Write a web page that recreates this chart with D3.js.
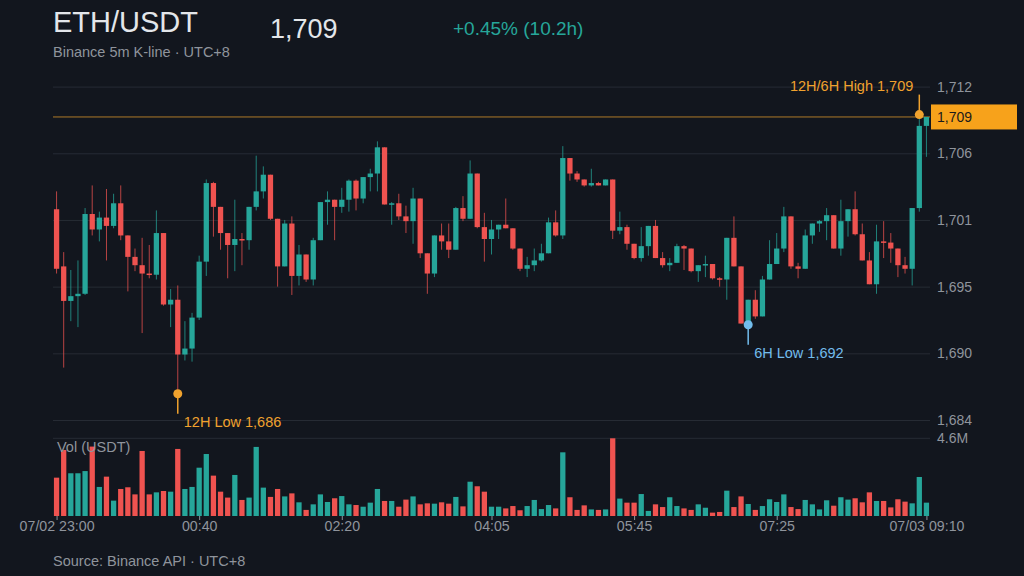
<!DOCTYPE html>
<html>
<head>
<meta charset="utf-8">
<script src="https://cdn.jsdelivr.net/npm/d3@7"></script>
<style>
    html, body { margin: 0; padding: 0; background: #12161e; }
    svg { display: block; font-family: "Liberation Sans", Arial, sans-serif; }
</style>
</head>
<body>
<svg id="chart"></svg>
<script>
// 5m candles, 07/02 23:00 -> 07/03 09:10 (UTC+8)
var opens = [
    1701.7, 1696.9, 1694.0, 1694.4, 1694.6, 1701.3, 1700.0, 1701.0, 1700.3, 1702.2,
    1699.5, 1697.7, 1697.0, 1696.3, 1696.2, 1699.7, 1693.7, 1694.1, 1689.5, 1690.0,
    1692.6, 1697.3, 1703.9, 1701.9, 1699.7, 1698.7, 1699.2, 1699.1, 1701.9, 1703.2,
    1704.6, 1700.9, 1696.9, 1700.5, 1696.1, 1697.9, 1695.8, 1699.1, 1702.3, 1702.5,
    1701.9, 1702.5, 1704.1, 1702.6, 1704.4, 1704.7, 1706.9, 1702.1, 1702.2, 1701.1,
    1700.7, 1702.6, 1698.0, 1696.3, 1699.5, 1699.0, 1698.3, 1701.8, 1700.9, 1704.7,
    1700.2, 1699.2, 1700.0, 1700.4, 1700.1, 1698.4, 1696.7, 1697.0, 1697.4, 1698.0,
    1700.6, 1699.5, 1706.0, 1704.7, 1704.2, 1703.7, 1703.9, 1703.7, 1704.2, 1699.9,
    1700.2, 1698.8, 1697.6, 1698.6, 1700.3, 1697.6, 1697.0, 1697.2, 1698.6, 1698.4,
    1696.5, 1697.0, 1697.1, 1695.9, 1695.8, 1699.3, 1696.9, 1692.1, 1694.1, 1692.7,
    1695.8, 1697.1, 1698.4, 1701.1, 1696.9, 1696.7, 1699.5, 1700.5, 1700.7, 1701.2,
    1698.4, 1700.7, 1701.7, 1699.6, 1697.4, 1695.4, 1699.0, 1698.9, 1698.4, 1697.0,
    1696.7, 1701.8, 1708.7
];
var highs = [
    1703.2, 1698.1, 1696.6, 1697.4, 1701.8, 1703.7, 1701.5, 1703.4, 1703.0, 1703.7,
    1699.5, 1698.4, 1699.3, 1698.7, 1701.6, 1699.7, 1695.0, 1695.3, 1692.3, 1693.0,
    1697.8, 1704.2, 1704.0, 1701.9, 1699.7, 1702.5, 1699.7, 1701.9, 1706.2, 1705.3,
    1704.6, 1700.9, 1700.8, 1701.1, 1698.7, 1697.9, 1699.3, 1702.3, 1703.2, 1702.5,
    1703.5, 1704.2, 1704.2, 1704.4, 1705.1, 1707.4, 1706.9, 1702.3, 1703.0, 1702.0,
    1703.5, 1702.6, 1698.0, 1699.5, 1700.5, 1700.5, 1701.9, 1702.8, 1705.8, 1704.7,
    1701.4, 1700.8, 1700.4, 1702.6, 1700.1, 1698.4, 1697.7, 1698.4, 1698.8, 1701.0,
    1701.6, 1707.0, 1706.0, 1704.9, 1704.2, 1705.1, 1704.0, 1704.2, 1704.2, 1701.5,
    1700.4, 1698.8, 1700.2, 1700.3, 1700.8, 1698.1, 1697.6, 1698.8, 1698.7, 1698.4,
    1697.0, 1697.8, 1697.1, 1696.0, 1699.3, 1701.1, 1696.9, 1694.1, 1694.9, 1696.1,
    1699.1, 1699.7, 1701.9, 1701.1, 1697.2, 1700.0, 1700.5, 1700.8, 1701.8, 1701.2,
    1702.5, 1701.7, 1703.2, 1700.5, 1698.1, 1700.4, 1700.7, 1699.7, 1698.4, 1697.7,
    1701.8, 1709.65, 1709.45
];
var lows = [
    1696.3, 1688.4, 1692.3, 1691.8, 1694.5, 1699.5, 1699.0, 1697.4, 1700.1, 1699.1,
    1694.8, 1696.5, 1691.3, 1695.9, 1695.8, 1693.6, 1691.8, 1686.2, 1689.0, 1688.9,
    1692.4, 1696.1, 1699.4, 1698.3, 1695.9, 1696.5, 1697.0, 1698.3, 1701.6, 1702.6,
    1700.8, 1695.2, 1696.9, 1694.5, 1695.3, 1695.6, 1695.3, 1699.1, 1700.4, 1699.1,
    1701.4, 1701.5, 1701.6, 1702.2, 1703.2, 1703.2, 1702.1, 1700.4, 1700.8, 1699.7,
    1698.8, 1697.6, 1694.6, 1696.0, 1698.3, 1697.6, 1698.3, 1700.7, 1700.9, 1700.1,
    1697.3, 1697.9, 1699.2, 1700.1, 1698.3, 1696.5, 1696.0, 1696.5, 1697.3, 1698.0,
    1699.4, 1699.2, 1704.1, 1704.0, 1703.6, 1703.6, 1703.7, 1703.7, 1699.2, 1699.6,
    1698.3, 1697.5, 1697.3, 1697.8, 1697.6, 1696.8, 1696.5, 1697.2, 1696.6, 1696.4,
    1695.6, 1696.0, 1695.8, 1695.2, 1694.1, 1696.9, 1692.1, 1692.0, 1692.5, 1692.7,
    1695.8, 1697.1, 1698.1, 1696.7, 1695.9, 1696.7, 1698.8, 1699.8, 1699.1, 1698.4,
    1697.8, 1699.4, 1699.5, 1697.4, 1695.4, 1694.6, 1697.6, 1697.2, 1696.0, 1696.3,
    1695.3, 1701.5, 1706.1
];
var closes = [
    1696.7, 1694.0, 1694.4, 1694.6, 1701.3, 1700.0, 1701.0, 1700.3, 1702.2, 1699.5,
    1697.7, 1697.0, 1696.3, 1696.2, 1699.7, 1693.7, 1694.1, 1689.5, 1690.0, 1692.6,
    1697.3, 1703.9, 1701.9, 1699.7, 1698.7, 1699.2, 1699.1, 1701.9, 1703.2, 1704.6,
    1700.9, 1696.9, 1700.5, 1696.1, 1697.9, 1695.8, 1699.1, 1702.3, 1702.5, 1701.9,
    1702.5, 1704.1, 1702.6, 1704.4, 1704.7, 1706.9, 1702.1, 1702.2, 1701.1, 1700.7,
    1702.6, 1698.0, 1696.3, 1699.5, 1699.0, 1698.3, 1701.8, 1700.9, 1704.7, 1700.2,
    1699.2, 1700.0, 1700.4, 1700.1, 1698.4, 1696.7, 1697.0, 1697.4, 1698.0, 1700.6,
    1699.5, 1706.0, 1704.7, 1704.2, 1703.7, 1703.9, 1703.7, 1704.2, 1699.9, 1700.2,
    1698.8, 1697.6, 1698.6, 1700.3, 1697.6, 1697.0, 1697.2, 1698.6, 1698.4, 1696.5,
    1697.0, 1697.1, 1695.9, 1695.8, 1699.3, 1696.9, 1692.1, 1694.1, 1692.7, 1695.8,
    1697.1, 1698.4, 1701.1, 1696.9, 1696.7, 1699.5, 1700.5, 1700.7, 1701.2, 1698.4,
    1700.7, 1701.7, 1699.6, 1697.4, 1695.4, 1699.0, 1698.9, 1698.4, 1697.0, 1696.7,
    1701.8, 1708.7, 1709.45
];
// volume in millions of USDT
var volumes = [
    2.27, 3.91, 2.53, 2.53, 2.66, 4.11, 1.72, 2.33, 0.91, 1.60,
    1.70, 1.28, 3.85, 1.28, 1.40, 1.48, 1.44, 3.97, 1.60, 1.72,
    2.86, 3.67, 2.39, 1.44, 1.09, 2.43, 0.95, 1.09, 4.09, 1.68,
    1.13, 1.60, 1.16, 1.34, 0.81, 0.36, 0.69, 1.28, 0.83, 1.05,
    1.18, 0.69, 0.65, 0.55, 0.79, 1.60, 0.89, 0.89, 0.55, 0.97,
    1.16, 0.69, 0.75, 0.73, 0.81, 0.73, 1.13, 0.57, 2.03, 1.76,
    1.44, 0.55, 0.55, 0.45, 0.59, 0.34, 0.59, 0.95, 0.41, 0.65,
    0.45, 3.77, 1.11, 0.36, 0.63, 0.39, 0.36, 0.39, 4.60, 1.03,
    0.79, 0.79, 1.30, 0.30, 0.69, 0.53, 1.11, 0.59, 0.45, 0.36,
    0.69, 0.49, 0.20, 0.24, 1.50, 0.53, 1.16, 0.71, 0.36, 0.59,
    0.99, 0.83, 1.28, 0.53, 0.41, 0.95, 0.69, 0.39, 0.93, 0.61,
    1.11, 0.97, 1.05, 0.81, 1.40, 0.89, 0.89, 0.51, 0.99, 0.85,
    0.75, 2.31, 0.79
];

var xTickIndex = [0, 20, 40, 61, 81, 101, 122];
var xTickLabels = ["07/02 23:00", "00:40", "02:20", "04:05", "05:45", "07:25", "07/03 09:10"];
var yTickValues = [1684, 1689.6, 1695.2, 1700.8, 1706.4, 1712];

var markHigh = {index: 121, value: 1709.65, text: "12H/6H High 1,709"};
var markLow12 = {index: 17, value: 1686.2, text: "12H Low 1,686"};
var markLow6 = {index: 97, value: 1692.0, text: "6H Low 1,692"};

var dimensions = {
    width: 1024,
    height: 576,
    left: 53,
    right: 930,
    priceTop: 86.6,
    priceBottom: 420,
    volTop: 438.3,
    volBottom: 516
}

var colors = {
    bg: "#12161e",
    up: "#26a69a",
    down: "#ef5350",
    grid: "#262b34",
    text: "#e3e6ea",
    muted: "#8f949c",
    orange: "#f0a22e",
    blue: "#72bcec"
}

var small = "14.5px";

var candles = opens.map((o, i) => ({
    i: i, open: o, high: highs[i], low: lows[i], close: closes[i], vol: volumes[i] * 1e6
}));

var svg = d3.select("#chart")
    .attr("width", dimensions.width)
    .attr("height", dimensions.height);

svg.append("rect")
    .attr("width", dimensions.width)
    .attr("height", dimensions.height)
    .attr("fill", colors.bg);

var xScale = d3.scaleLinear()
    .domain([-0.5, candles.length - 0.5])
    .range([dimensions.left, dimensions.right]);

var yScale = d3.scaleLinear()
    .domain([1684, 1712])
    .range([dimensions.priceBottom, dimensions.priceTop]);

var volScale = d3.scaleLinear()
    .domain([0, d3.max(candles, d => d.vol)])
    .range([dimensions.volBottom, dimensions.volTop]);

var step = xScale(1) - xScale(0);
var bodyW = step * 0.74;
var fmt = d3.format(",.0f");

// header
svg.append("text").attr("x", 53).attr("y", 32)
    .attr("fill", colors.text).style("font-size", "29px").text("ETH/USDT");
svg.append("text").attr("x", 53).attr("y", 57)
    .attr("fill", colors.muted).style("font-size", small).text("Binance 5m K-line \u00b7 UTC+8");
svg.append("text").attr("x", 270).attr("y", 38)
    .attr("fill", colors.text).style("font-size", "27px").text(fmt(closes[closes.length - 1]));
svg.append("text").attr("x", 453).attr("y", 35)
    .attr("fill", colors.up).style("font-size", "19px").text("+0.45% (10.2h)");

// price grid + right axis
var yAxis = d3.axisRight(yScale)
    .tickValues(yTickValues)
    .tickSize(-(dimensions.right - dimensions.left))
    .tickPadding(7)
    .tickFormat(fmt);

var yAxisG = svg.append("g")
    .attr("transform", `translate(${dimensions.right},0)`)
    .call(yAxis);
yAxisG.select(".domain").remove();
yAxisG.selectAll("line").attr("stroke", colors.grid);
yAxisG.selectAll("text")
    .attr("fill", colors.muted)
    .style("font-size", "14px")
    .style("font-family", "Liberation Sans, Arial, sans-serif");

// volume top line and label
svg.append("line")
    .attr("x1", dimensions.left).attr("x2", dimensions.right)
    .attr("y1", volScale.range()[1]).attr("y2", volScale.range()[1])
    .attr("stroke", colors.grid);
svg.append("text")
    .attr("x", dimensions.right + 7).attr("y", volScale.range()[1]).attr("dy", "0.32em")
    .attr("fill", colors.muted).style("font-size", "14px")
    .text(d3.format(".1f")(volScale.domain()[1] / 1e6) + "M");

// volume bars
svg.append("g")
    .selectAll("rect")
    .data(candles)
    .enter()
    .append("rect")
    .attr("x", d => xScale(d.i) - bodyW / 2)
    .attr("y", d => volScale(d.vol))
    .attr("width", bodyW)
    .attr("height", d => volScale(0) - volScale(d.vol))
    .attr("fill", d => d.close >= d.open ? colors.up : colors.down);

svg.append("text")
    .attr("x", 57).attr("y", 452)
    .attr("fill", colors.muted).style("font-size", small)
    .text("Vol (USDT)");

// current price line
var last = candles[candles.length - 1];
svg.append("line")
    .attr("x1", dimensions.left).attr("x2", dimensions.right)
    .attr("y1", yScale(last.close)).attr("y2", yScale(last.close))
    .attr("stroke", colors.orange).attr("stroke-opacity", 0.7);

// candles
var candleG = svg.append("g")
    .selectAll("g")
    .data(candles)
    .enter()
    .append("g");

candleG.append("line")
    .attr("x1", d => xScale(d.i)).attr("x2", d => xScale(d.i))
    .attr("y1", d => yScale(d.high)).attr("y2", d => yScale(d.low))
    .attr("stroke", d => d.close >= d.open ? colors.up : colors.down)
    .attr("stroke-opacity", 0.75)
    .attr("stroke-width", 1);

candleG.append("rect")
    .attr("x", d => xScale(d.i) - bodyW / 2)
    .attr("y", d => yScale(Math.max(d.open, d.close)))
    .attr("width", bodyW)
    .attr("height", d => Math.max(1.5, Math.abs(yScale(d.open) - yScale(d.close))))
    .attr("fill", d => d.close >= d.open ? colors.up : colors.down);

// current price tag
svg.append("rect")
    .attr("x", dimensions.right + 1).attr("y", yScale(last.close) - 12.5)
    .attr("width", 86).attr("height", 25)
    .attr("fill", "#f7a21b");
svg.append("text")
    .attr("x", dimensions.right + 7).attr("y", yScale(last.close)).attr("dy", "0.35em")
    .attr("fill", "#1b1b1b").style("font-size", "14px")
    .text(fmt(last.close));

// extreme markers
function marker(m, color, up, anchor) {
    var cx = xScale(m.index), cy = yScale(m.value);
    var stemEnd = up ? cy - 20 : cy + 20;
    svg.append("line")
        .attr("x1", cx).attr("x2", cx)
        .attr("y1", cy).attr("y2", stemEnd)
        .attr("stroke", color).attr("stroke-width", 1.5);
    svg.append("circle")
        .attr("cx", cx).attr("cy", cy).attr("r", 4.5)
        .attr("fill", color);
    svg.append("text")
        .attr("x", anchor === "end" ? cx - 6 : cx + 6)
        .attr("y", up ? stemEnd - 4 : stemEnd + 13)
        .attr("text-anchor", anchor)
        .attr("fill", color).style("font-size", small)
        .text(m.text);
}
marker(markHigh, colors.orange, true, "end");
marker(markLow12, colors.orange, false, "start");
marker(markLow6, colors.blue, false, "start");

// x axis labels
var xAxisG = svg.append("g")
    .attr("transform", `translate(0,${dimensions.volBottom})`)
    .call(d3.axisBottom(xScale)
        .tickValues(xTickIndex)
        .tickSize(4)
        .tickPadding(1)
        .tickFormat((d, i) => xTickLabels[i]));
xAxisG.select(".domain").remove();
xAxisG.selectAll("line").attr("stroke", colors.muted);
xAxisG.selectAll("text")
    .attr("fill", colors.muted)
    .style("font-size", "14.2px")
    .style("font-family", "Liberation Sans, Arial, sans-serif");

svg.append("text")
    .attr("x", 53).attr("y", 566)
    .attr("fill", colors.muted).style("font-size", small)
    .text("Source: Binance API \u00b7 UTC+8");
</script>
</body>
</html>
